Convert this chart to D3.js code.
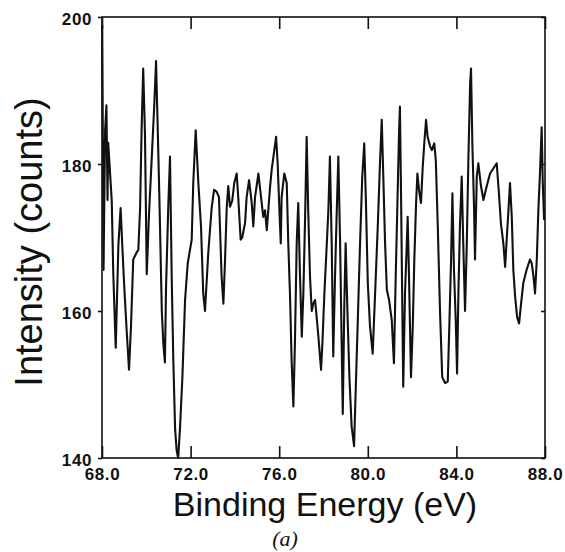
<!DOCTYPE html>
<html><head><meta charset="utf-8">
<script src="https://cdn.jsdelivr.net/npm/d3@7/dist/d3.min.js"></script>
<style>html,body{margin:0;padding:0;background:#fff}svg{display:block}</style>
</head><body>
<svg id="c" width="565" height="552"></svg>
<script>
const energy = [68.01,68.07,68.14,68.20,68.25,68.28,68.44,68.51,68.62,68.74,68.84,68.93,69.01,69.12,69.22,69.31,69.41,69.57,69.64,69.72,69.79,69.86,69.94,70.02,70.12,70.24,70.36,70.44,70.51,70.59,70.70,70.77,70.84,70.89,70.99,71.07,71.15,71.22,71.30,71.37,71.44,71.52,71.63,71.75,71.87,72.05,72.12,72.23,72.35,72.47,72.57,72.65,72.80,72.95,73.06,73.18,73.28,73.40,73.48,73.55,73.63,73.70,73.78,73.88,73.97,74.08,74.15,74.26,74.33,74.46,74.53,74.64,74.76,74.83,74.91,75.06,75.18,75.28,75.36,75.44,75.59,75.66,75.78,75.86,75.93,76.01,76.07,76.11,76.23,76.34,76.41,76.49,76.56,76.64,76.71,76.79,76.86,76.94,77.02,77.09,77.17,77.24,77.31,77.39,77.47,77.54,77.62,77.69,77.77,77.89,77.95,78.04,78.15,78.22,78.29,78.37,78.44,78.52,78.60,78.67,78.75,78.82,78.87,78.94,79.00,79.08,79.17,79.27,79.38,79.45,79.54,79.65,79.75,79.84,79.91,80.00,80.10,80.22,80.33,80.45,80.55,80.63,80.70,80.78,80.86,80.96,81.08,81.18,81.26,81.33,81.41,81.45,81.50,81.56,81.60,81.68,81.76,81.80,81.86,81.95,82.03,82.10,82.18,82.24,82.31,82.40,82.48,82.55,82.63,82.70,82.81,82.89,83.00,83.07,83.16,83.26,83.36,83.49,83.61,83.68,83.76,83.82,83.89,83.97,84.03,84.09,84.16,84.24,84.31,84.39,84.47,84.54,84.62,84.66,84.72,84.80,84.84,84.92,84.99,85.11,85.22,85.37,85.52,85.71,85.82,85.92,86.01,86.12,86.20,86.27,86.35,86.42,86.50,86.57,86.65,86.74,86.83,86.92,87.02,87.17,87.32,87.40,87.48,87.55,87.63,87.70,87.78,87.85,87.90,87.96];
const counts = [198.9,165.6,184.6,188,175.1,182.9,175,165,155,169,174,168,163,157,152,158,167,168,168.3,174,185,193,184,165,173,180.5,188,194,185.5,175.5,160,155.5,153,163,174,181,164,153.3,144,141,140,144,151,161.5,166.5,169.7,177.4,184.6,177.4,171.5,162.4,160,168,174,176.5,176.2,175.5,164.7,161,166.5,174,177,174.2,175,177.4,178.7,175.5,169.7,170,172,175.5,177.8,174.7,171.5,175.5,178.7,175.5,172.8,173.7,171,177,179.2,181.9,183.7,180.1,173.7,169.2,175.5,178.7,177.4,169.2,162,153.3,147,155.6,169.2,174.7,164.7,156.5,162.4,172.8,183.7,173.7,164.7,160,161,161.5,159.2,156.5,152,155.6,162.4,169.2,173.7,181,169.2,153.8,164.7,173.7,181,169.2,155.6,146,161,169.2,160,151,144.3,141.6,148.8,157.9,169.2,178.3,182.8,175.5,163.8,157.9,154.2,162.4,171.5,180.1,186,178.3,169.2,162.9,161.5,158.8,152.9,164.7,173.7,184.2,187.8,176,160,149.7,162.4,169.2,172.8,164.7,151,157.9,167,174.7,178.7,176.5,174.7,179.6,182.8,186,183.7,182.4,181.9,182.8,180.5,171.5,160,151,150.2,150.4,157.9,167,176,165.6,158.8,151.5,162.4,171.5,178.3,169.2,160,169.2,180.5,191,193,182.8,173.7,167,178.3,180.1,177,175.1,177,178.7,179.6,180.1,176,171.9,169.2,166,169.7,173.7,177.4,172.8,165.6,162,159.2,158.3,161,163.8,165.6,167,166.5,164.7,162.4,167,173.7,179.2,185,177.4,172.4];
const xTicks = [68, 72, 76, 80, 84, 88];
const yTicks = [140, 160, 180, 200];
const xTitle = "Binding Energy (eV)";
const yTitle = "Intensity (counts)";
const caption = "(a)";

const svg = d3.select("#c");
const L = 102, R = 545, T = 17, B = 458;
const x = d3.scaleLinear().domain([68, 88]).range([L, R]);
const y = d3.scaleLinear().domain([140, 200]).range([B, T]);
const data = energy.map((e, i) => [e, counts[i]]);

// line
svg.append("path").datum(data)
  .attr("fill", "none").attr("stroke", "#111").attr("stroke-width", 2.1)
  .attr("stroke-linejoin", "round")
  .attr("d", d3.line().x(d => x(d[0])).y(d => y(d[1])));

// frame
svg.append("rect").attr("x", L).attr("y", T).attr("width", R - L).attr("height", B - T)
  .attr("fill", "none").attr("stroke", "#111").attr("stroke-width", 1.6);

// axes
const xb = svg.append("g").attr("transform", `translate(0,${B})`)
  .call(d3.axisBottom(x).tickValues(xTicks).tickSize(-12).tickPadding(22).tickFormat(d3.format(".1f")));
const xt = svg.append("g").attr("transform", `translate(0,${T})`)
  .call(d3.axisTop(x).tickValues(xTicks).tickSize(-12).tickFormat(""));
const yl = svg.append("g").attr("transform", `translate(${L},0)`)
  .call(d3.axisLeft(y).tickValues(yTicks).tickSize(4).tickPadding(6));
const yr = svg.append("g").attr("transform", `translate(${R},0)`)
  .call(d3.axisRight(y).tickValues(yTicks).tickSize(-4).tickFormat(""));
[xb, xt, yl, yr].forEach(g => {
  g.select(".domain").remove();
  g.selectAll(".tick line").attr("stroke", "#111").attr("stroke-width", 1.6);
  g.selectAll("text").attr("fill", "#111")
    .style("font-family", "'Liberation Sans', Arial, sans-serif")
    .style("font-weight", "bold").style("font-size", "17px")
    .style("letter-spacing", "0.6px");
});
xb.selectAll("text").attr("dy", "0").attr("y", 22);
yl.selectAll("text").attr("dy", "0.42em");

svg.append("text").attr("x", 325).attr("y", 516).attr("text-anchor", "middle")
  .style("font-family", "'Liberation Sans', Arial, sans-serif").style("font-size", "34px")
  .attr("fill", "#111").text(xTitle);
svg.append("text").attr("transform", "translate(42,242) rotate(-90)").attr("text-anchor", "middle")
  .style("font-family", "'Liberation Sans', Arial, sans-serif").style("font-size", "38px")
  .attr("fill", "#111").text(yTitle);
svg.append("text").attr("x", 285).attr("y", 546).attr("text-anchor", "middle")
  .style("font-family", "'Liberation Serif', 'Times New Roman', serif").style("font-style", "italic").style("font-size", "22px")
  .attr("fill", "#111").text(caption);
</script>
</body></html>
